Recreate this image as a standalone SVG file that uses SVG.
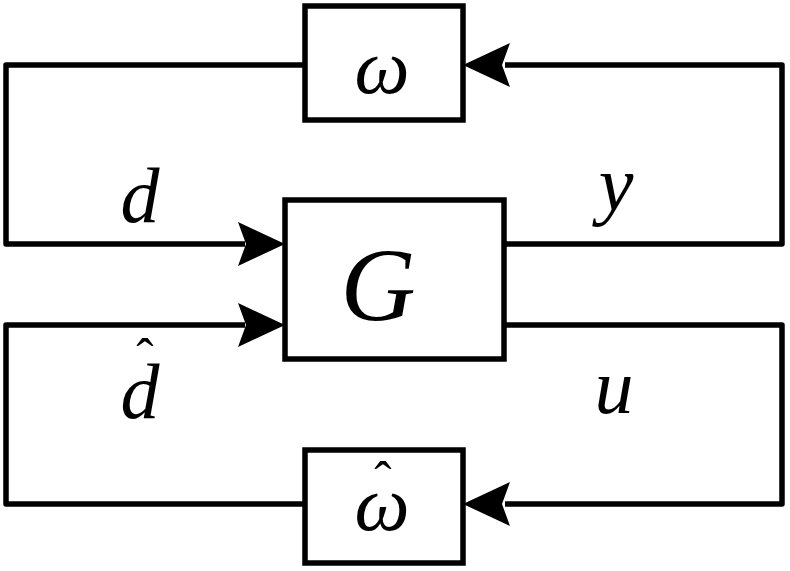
<svg xmlns="http://www.w3.org/2000/svg" width="790" height="571" viewBox="0 0 790 571">
<style>
.box{fill:#fff;stroke:#000;stroke-width:5.5}
.wire{fill:none;stroke:#000;stroke-width:5.5;stroke-linejoin:round}
text{font-family:"Liberation Serif","Times New Roman","DejaVu Serif",serif;fill:#000;text-anchor:middle}
.lbl{font-style:italic}
</style>
<defs>
<path id="ah" d="M0,0 L-47,-22 L-39,0 L-47,22 Z" fill="#000"/>
</defs>
<rect x="0" y="0" width="790" height="571" fill="#fff"/>
<g id="connectors">
<polyline class="wire" points="305,65 6,65 6,244 245,244"/>
<polyline class="wire" points="504,244 782,244 782,65 505,65"/>
<polyline class="wire" points="245,325 6,325 6,504 305,504"/>
<polyline class="wire" points="504,325 782,325 782,504 505,504"/>
<use href="#ah" transform="translate(285,244)"/>
<use href="#ah" transform="translate(285,325)"/>
<use href="#ah" transform="translate(463,65) rotate(180)"/>
<use href="#ah" transform="translate(463,504) rotate(180)"/>
</g>
<g id="node-omega">
<rect class="box" x="305" y="6" width="158" height="114"/>
<text class="lbl" x="382" y="93" font-size="78">ω</text>
</g>
<g id="node-G">
<rect class="box" x="285" y="200" width="219" height="159"/>
<text class="lbl" x="378" y="320" font-size="104">G</text>
</g>
<g id="node-omega-hat">
<rect class="box" x="305" y="450" width="158" height="113"/>
<text class="lbl" x="382" y="530" font-size="78">ω</text>
<text x="383" y="498" font-size="52">ˆ</text>
</g>
<g id="labels">
<text class="lbl" x="140" y="222" font-size="78">d</text>
<text class="lbl" x="140" y="418" font-size="78">d</text>
<text x="145" y="375" font-size="52">ˆ</text>
<text class="lbl" x="616" y="210" font-size="78">y</text>
<text class="lbl" x="614" y="413" font-size="78">u</text>
</g>
</svg>
